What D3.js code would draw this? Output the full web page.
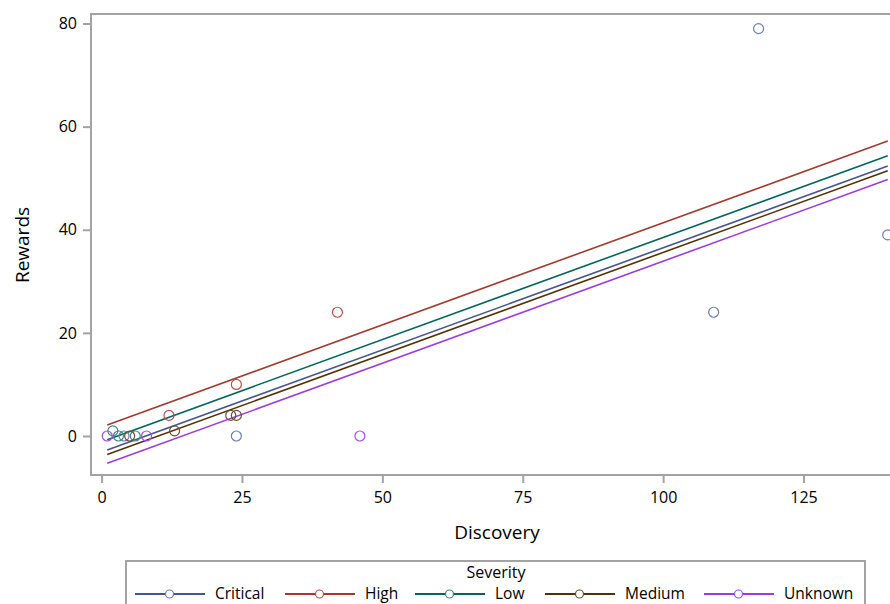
<!DOCTYPE html>
<html>
<head>
<meta charset="utf-8">
<script src="https://cdn.jsdelivr.net/npm/d3@7"></script>
<style>
  html, body { margin: 0; padding: 0; background: #ffffff; }
  svg { display: block; }
  text { font-family: "Open Sans", "Noto Sans", sans-serif; fill: #000; }
</style>
</head>
<body>
<svg id="chart" width="890" height="604"></svg>
<script>
// ---- data ----
const severities = ["Critical", "High", "Low", "Medium", "Unknown"];
const lineColors = ["#445694", "#A23A2E", "#01665E", "#543005", "#9D3CDB"];
const markerColors = ["#6F7EB3", "#C0504D", "#3E8B84", "#6B5132", "#A650E0"];

const criticalPts = [[4, 0], [24, 0], [109, 24], [117, 79], [140, 39]];
const highPts     = [[12, 4], [24, 10], [42, 24]];
const lowPts      = [[2, 1], [3, 0], [6, 0]];
const mediumPts   = [[5, 0], [13, 1], [23, 4], [24, 4]];
const unknownPts  = [[1, 0], [8, 0], [46, 0]];
const groupPoints = [criticalPts, highPts, lowPts, mediumPts, unknownPts];

// ANCOVA fit: common slope, separate intercepts
const fitSlope = 0.396;
const fitIntercepts = [-3.1, 1.75, -1.1, -4.0, -5.7];
const fitRange = [1, 140];

const xTicks = [0, 25, 50, 75, 100, 125];
const yTicks = [0, 20, 40, 60, 80];

// ---- layout ----
const svg = d3.select("#chart");
const frame = { left: 91, top: 14, bottom: 475, right: 1000 };

const x = d3.scaleLinear().domain([0, 125]).range([101.6, 803.5]);
const y = d3.scaleLinear().domain([0, 80]).range([436, 23.5]);

svg.append("rect").attr("width", 890).attr("height", 604).attr("fill", "#fff");

svg.append("defs").append("clipPath").attr("id", "plotclip")
  .append("rect").attr("x", frame.left).attr("y", frame.top)
  .attr("width", frame.right - frame.left).attr("height", frame.bottom - frame.top);

const plot = svg.append("g").attr("clip-path", "url(#plotclip)");

// fit lines
severities.forEach((s, i) => {
  const pts = fitRange.map(v => [v, fitIntercepts[i] + fitSlope * v]);
  plot.append("path")
    .attr("d", d3.line().x(d => x(d[0])).y(d => y(d[1]))(pts))
    .attr("fill", "none")
    .attr("stroke", lineColors[i])
    .attr("stroke-width", 1.6);
});

// markers
severities.forEach((s, i) => {
  plot.selectAll(null).data(groupPoints[i]).enter().append("circle")
    .attr("cx", d => x(d[0])).attr("cy", d => y(d[1]))
    .attr("r", 5)
    .attr("fill", "none")
    .attr("stroke", markerColors[i])
    .attr("stroke-width", 1.2);
});

// frame
const axisColor = "#a3a3a3";
svg.append("rect")
  .attr("x", frame.left).attr("y", frame.top)
  .attr("width", frame.right - frame.left).attr("height", frame.bottom - frame.top)
  .attr("fill", "none").attr("stroke", axisColor).attr("stroke-width", 2);

// y axis
const yAxis = d3.axisLeft(y).tickValues(yTicks).tickSize(8).tickPadding(6).tickFormat(d3.format("d"));
const gy = svg.append("g").attr("transform", `translate(${frame.left},0)`).call(yAxis);
gy.select(".domain").remove();
gy.selectAll(".tick line").attr("stroke", axisColor).attr("stroke-width", 2);
gy.selectAll(".tick text").style("font-size", "16px").style("font-family", "'Open Sans', sans-serif").attr("fill", "#000");

// x axis
const xAxis = d3.axisBottom(x).tickValues(xTicks).tickSize(8).tickPadding(9).tickFormat(d3.format("d"));
const gx = svg.append("g").attr("transform", `translate(0,${frame.bottom})`).call(xAxis);
gx.select(".domain").remove();
gx.selectAll(".tick line").attr("stroke", axisColor).attr("stroke-width", 2);
gx.selectAll(".tick text").style("font-size", "16px").style("font-family", "'Open Sans', sans-serif").attr("fill", "#000");

// axis titles
svg.append("text").attr("x", 497).attr("y", 539).attr("text-anchor", "middle")
  .style("font-size", "19px").text("Discovery");
svg.append("text").attr("transform", "translate(29,245) rotate(-90)").attr("text-anchor", "middle")
  .style("font-size", "19px").text("Rewards");

// legend
const legend = svg.append("g");
legend.append("rect").attr("x", 126).attr("y", 561).attr("width", 739).attr("height", 80)
  .attr("fill", "none").attr("stroke", axisColor).attr("stroke-width", 2);
legend.append("text").attr("x", 496).attr("y", 578).attr("text-anchor", "middle")
  .style("font-size", "16px").text("Severity");

const legendLineStart = [135, 285, 415, 545, 704];
const legendY = 594;
severities.forEach((s, i) => {
  const x0 = legendLineStart[i];
  legend.append("line").attr("x1", x0).attr("x2", x0 + 70).attr("y1", legendY).attr("y2", legendY)
    .attr("stroke", lineColors[i]).attr("stroke-width", 2);
  legend.append("circle").attr("cx", x0 + 34.5).attr("cy", legendY).attr("r", 4)
    .attr("fill", "#fff").attr("stroke", markerColors[i]).attr("stroke-width", 1.2);
  legend.append("text").attr("x", x0 + 80).attr("y", 599)
    .style("font-size", "15.5px").text(s);
});
</script>
</body>
</html>
